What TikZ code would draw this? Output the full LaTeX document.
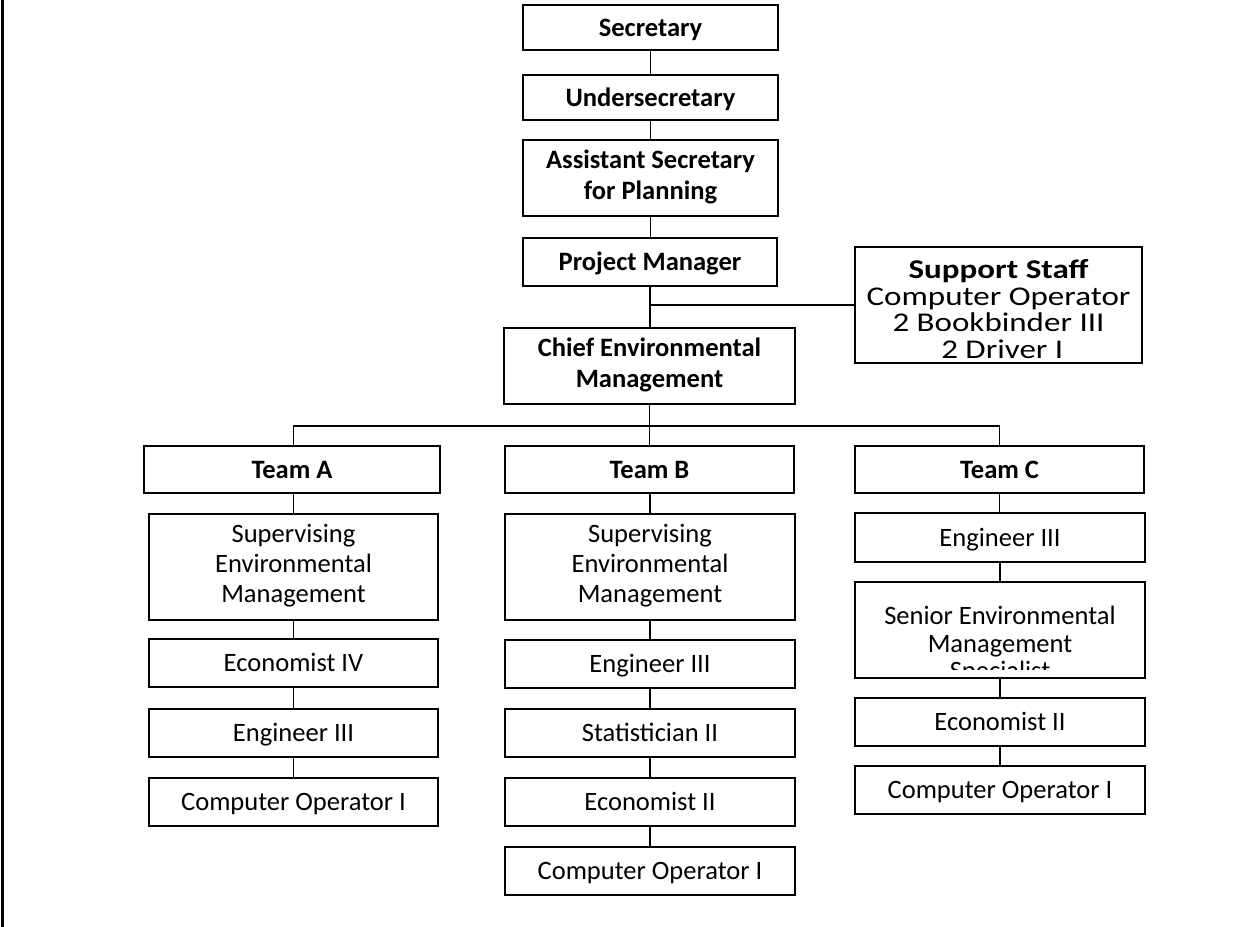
\documentclass[tikz,border=0pt]{standalone}
\usepackage{fontspec}
\setmainfont{Carlito}
\newfontfamily\widefont[FakeStretch=1.22]{Carlito}
% struts that keep the capitals centred in every box
\newcommand\Tstrut{\rule{0pt}{17.9pt}}
\newcommand\Bstrut{\rule[-5.1pt]{0pt}{5.1pt}}
\begin{document}
\begin{tikzpicture}[x=0.75pt,y=-0.75pt,
  dim/.style 2 args={minimum width=#1*0.75pt, minimum height=#2*0.75pt},
  box/.style={draw, line width=1.5pt, inner sep=0pt, align=center,
    font=\fontsize{19.9}{22.5}\selectfont,
    execute at begin node=\Tstrut, execute at end node=\Bstrut},
  head/.style={box, font=\fontsize{19.9}{23.3}\selectfont\bfseries},
  plain/.style={inner sep=0pt, align=center, font=\fontsize{19.9}{20.6}\selectfont,
    execute at begin node=\Tstrut},
  link/.style={line width=1.2pt}]
\useasboundingbox (0,0) rectangle (1241,927);
% page rule on the left
\draw[line width=1.6pt] (2.5,0) -- (2.5,927);

% chain of command
\node[head, dim={255}{45}] (sec)   at (650.5,27.5) {Secretary};
\node[head, dim={255}{45}] (usec)  at (650.5,97.5) {Undersecretary};
\node[head, dim={255}{76}] (asec)  at (650.5,178)  {Assistant Secretary\\for Planning};
\node[head, dim={254}{48}] (pm)    at (650,262)    {Project Manager};
\node[head, dim={291}{76}] (chief) at (649.5,366)  {Chief Environmental\\Management};

% support staff
\node[draw, line width=1.5pt, inner sep=0pt, dim={287}{116}] (supp) at (998.5,305) {};
\node[inner sep=0pt, align=center, font=\widefont\fontsize{20.3}{20}\selectfont]
  (suppt) at (998.5,309)
  {\textbf{Support Staff}\\Computer Operator\\2 Bookbinder III\\\ 2 Driver I};

% teams
\node[head, dim={296}{47}] (tA) at (292,469.5)   {Team A};
\node[head, dim={289}{47}] (tB) at (649.5,469.5) {Team B};
\node[head, dim={289}{47}] (tC) at (999.5,469.5) {Team C};

% team A
\node[box, dim={289}{106}] (supA) at (293.5,567) {Supervising\\Environmental\\Management};
\node[box, dim={289}{48}]  (ecoA) at (293.5,663) {Economist IV};
\node[box, dim={289}{48}]  (engA) at (293.5,733) {Engineer III};
\node[box, dim={289}{48}]  (coA)  at (293.5,802) {Computer Operator I};

% team B
\node[box, dim={290}{106}] (supB)  at (650,567) {Supervising\\Environmental\\Management};
\node[box, dim={290}{48}]  (engB)  at (650,664) {Engineer III};
\node[box, dim={290}{48}]  (statB) at (650,733) {Statistician II};
\node[box, dim={290}{48}]  (ecoB)  at (650,802) {Economist II};
\node[box, dim={290}{48}]  (coB)   at (650,871) {Computer Operator I};

% team C
\node[box, dim={290}{49}] (engC) at (1000,537.5) {Engineer III};
\node[draw, line width=1.5pt, inner sep=0pt, dim={290}{96}] (senC) at (1000,630) {};
\begin{scope}
  \clip (855,582) rectangle (1145,669);
  \node[plain, anchor=north] (senCt) at (1000,606) {Senior Environmental\\Management\\Specialist};
\end{scope}
\node[box, dim={290}{48}] (ecoC) at (1000,722) {Economist II};
\node[box, dim={290}{48}] (coC)  at (1000,790) {Computer Operator I};

% connectors
\coordinate (bus) at (0,426);
\draw[link] (sec.south) -- (sec.south |- usec.north);
\draw[link] (usec.south) -- (usec.south |- asec.north);
\draw[link] (asec.south) -- (asec.south |- pm.north);
\draw[link] (pm.south) -- (pm.south |- chief.north);
\draw[link] (supp.west) -- (supp.west -| pm.south);
\draw[link] (chief.south) -- (chief.south |- tB.north);
\draw[link] (supA.north |- tA.north) -- (supA.north |- bus) -| (tC.north);

\draw[link] (supA.north |- tA.south) -- (supA.north);
\draw[link] (supA.south) -- (supA.south |- ecoA.north);
\draw[link] (ecoA.south) -- (ecoA.south |- engA.north);
\draw[link] (engA.south) -- (engA.south |- coA.north);

\draw[link] (supB.north |- tB.south) -- (supB.north);
\draw[link] (supB.south) -- (supB.south |- engB.north);
\draw[link] (engB.south) -- (engB.south |- statB.north);
\draw[link] (statB.south) -- (statB.south |- ecoB.north);
\draw[link] (ecoB.south) -- (ecoB.south |- coB.north);

\draw[link] (tC.south) -- (tC.south |- engC.north);
\draw[link] (engC.south) -- (engC.south |- senC.north);
\draw[link] (senC.south) -- (senC.south |- ecoC.north);
\draw[link] (ecoC.south) -- (ecoC.south |- coC.north);
\end{tikzpicture}
\end{document}
